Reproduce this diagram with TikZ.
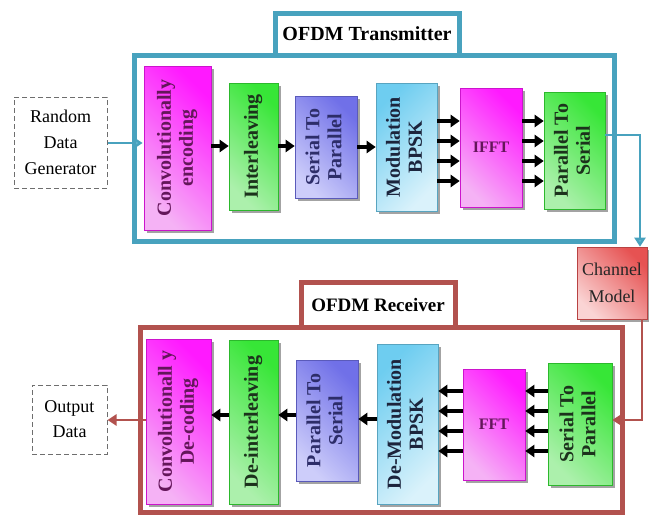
\documentclass[tikz,border=0pt]{standalone}
\usepackage{fontspec}
\usepackage{graphicx}
\setmainfont{Liberation Serif}
\usetikzlibrary{shadows,arrows.meta,calc}
\definecolor{tealc}{RGB}{72,162,190}
\definecolor{tealarr}{RGB}{96,180,206}
\definecolor{redc}{RGB}{178,82,78}
\definecolor{grayc}{RGB}{110,110,110}
\definecolor{magl}{RGB}{245,178,245}
\definecolor{magd}{RGB}{255,25,255}
\definecolor{magt}{RGB}{100,22,90}
\definecolor{grnl}{RGB}{172,240,172}
\definecolor{grnd}{RGB}{55,230,55}
\definecolor{grnt}{RGB}{28,50,28}
\definecolor{purl}{RGB}{205,205,250}
\definecolor{purd}{RGB}{112,112,232}
\definecolor{purt}{RGB}{45,45,105}
\definecolor{blul}{RGB}{218,242,251}
\definecolor{blud}{RGB}{110,205,240}
\definecolor{blut}{RGB}{28,36,60}
\definecolor{redl}{RGB}{250,212,212}
\definecolor{redd}{RGB}{230,82,82}
\newcommand\vtext[1]{\rotatebox{90}{\begin{tabular}{@{}c@{}}#1\end{tabular}}}
\begin{document}
\begin{tikzpicture}[x=1pt,y=-1pt,
  blk/.style={inner sep=0pt, line width=0.6pt,
    drop shadow={shadow xshift=3pt,shadow yshift=-3pt,fill=black!60,opacity=.6},
    font=\bfseries\fontsize{20}{22}\selectfont},
  magblk/.style={blk, draw=magd!80!black, top color=magd, bottom color=magl, shading angle=-45, text=magt},
  grnblk/.style={blk, draw=grnd!80!black, top color=grnd, bottom color=grnl, shading angle=-45, text=grnt},
  purblk/.style={blk, draw=purd!80!black, top color=purd, bottom color=purl, shading angle=-45, text=purt},
  blublk/.style={blk, draw=blud!80!black, top color=blud, bottom color=blul, shading angle=45, text=blut},
  redblk/.style={blk, draw=redd!80!black, top color=redd, bottom color=redl, shading angle=-45, text=black!85,
    font=\fontsize{18}{27}\selectfont, align=center},
  dashbox/.style={draw=grayc, line width=1pt, dash pattern=on 5pt off 3pt, fill=white, inner sep=0pt,
    align=center, text=black},
  txframe/.style={draw=tealc, line width=5pt, inner sep=0pt},
  rxframe/.style={draw=redc, line width=5pt, inner sep=0pt},
  barrow/.style={black, line width=3.4pt, -{Triangle[length=9pt,width=12pt]}},
  tarrow/.style={tealc, line width=2.6pt, -{Triangle[length=9pt,width=11pt,fill=tealarr]}},
  rarrow/.style={redc, line width=2.6pt, -{Triangle[length=9pt,width=11pt]}}
]
\useasboundingbox (0,0) rectangle (649,517);
\fill[white] (0,0) rectangle (649,517);

% ---------- Transmitter ----------
\node[txframe, minimum width=480pt, minimum height=186pt] (txbox) at (374,148) {};
\node[txframe, fill=white, minimum width=184pt, minimum height=42pt,
      font=\bfseries\fontsize{20}{22}\selectfont] (txtitle) at (367,34) {OFDM Transmitter};

\node[dashbox, minimum width=93pt, minimum height=91pt, font=\fontsize{18}{26}\selectfont] (rdg) at (60.5,142.5) {Random\\Data\\Generator};

\node[magblk, minimum width=67pt, minimum height=164pt] (conv) at (177.5,148) {\vtext{Convolutionally\\encoding}};
\node[grnblk, minimum width=49pt, minimum height=127pt] (inter) at (253.5,146.5) {\vtext{Interleaving}};
\node[purblk, minimum width=62pt, minimum height=102pt] (s2p) at (326,147) {\vtext{Serial To\\Parallel}};
\node[blublk, minimum width=61pt, minimum height=128pt] (mod) at (406.5,147) {\vtext{Modulation\\BPSK}};
\node[magblk, minimum width=62pt, minimum height=119pt, font=\bfseries\fontsize{16}{18}\selectfont] (ifft) at (491,147.5) {IFFT};
\node[grnblk, minimum width=61pt, minimum height=117pt] (p2s) at (574.5,150.5) {\vtext{Parallel To\\Serial}};

\node[redblk, minimum width=70pt, minimum height=72pt] (chan) at (612,283) {Channel\\Model};

\draw[tarrow] (rdg.east |- 0,143) -- ($(conv.west |- 0,143)+(-1,0)$);
\draw[barrow] (conv.east |- 0,146) -- (inter.west |- 0,146);
\draw[barrow] (inter.east |- 0,146) -- (s2p.west |- 0,146);
\draw[barrow] (s2p.east |- 0,147) -- (mod.west |- 0,147);
\foreach \yy in {121,141,161,181}{
  \draw[barrow] (mod.east |- 0,\yy) -- (ifft.west |- 0,\yy);
  \draw[barrow] (ifft.east |- 0,\yy) -- (p2s.west |- 0,\yy);
}
\coordinate (c1) at (640,135);
\draw[tarrow, line width=2.2pt] (p2s.east |- c1) -- (c1) -- (c1 |- chan.north);

% ---------- Receiver ----------
\node[rxframe, minimum width=482pt, minimum height=185pt] (rxbox) at (381,419.5) {};
\node[rxframe, fill=white, minimum width=154pt, minimum height=45pt,
      font=\bfseries\fontsize{19}{22}\selectfont] (rxtitle) at (378,304.5) {\raisebox{-3pt}{OFDM Receiver}};

\node[dashbox, minimum width=75pt, minimum height=69pt, font=\fontsize{18}{25}\selectfont] (out) at (69.5,419.5) {Output\\Data};

\node[magblk, minimum width=65pt, minimum height=165pt] (cdec) at (178.5,421.5) {\vtext{Convolutionall y\\De-coding}};
\node[grnblk, minimum width=49pt, minimum height=164pt] (dint) at (253.5,422) {\vtext{De-interleaving}};
\node[purblk, minimum width=62pt, minimum height=121pt] (rp2s) at (327,420.5) {\vtext{Parallel To\\Serial}};
\node[blublk, minimum width=61pt, minimum height=160pt] (dmod) at (407.5,424) {\vtext{De-Modulation\\BPSK}};
\node[magblk, minimum width=62pt, minimum height=111pt, font=\bfseries\fontsize{16}{18}\selectfont] (fft) at (494,424.5) {FFT};
\node[grnblk, minimum width=64pt, minimum height=122pt] (rs2p) at (580,424) {\vtext{Serial To\\Parallel}};

\coordinate (c2) at (642,420);
\draw[rarrow, line width=2.2pt] (chan.south -| c2) -- (c2) -- (rs2p.east |- c2);
\foreach \yy in {391,411,431,451}{
  \draw[barrow] (rs2p.west |- 0,\yy) -- (fft.east |- 0,\yy);
  \draw[barrow] (fft.west |- 0,\yy) -- (dmod.east |- 0,\yy);
}
\draw[barrow] (dmod.west |- 0,419) -- (rp2s.east |- 0,419);
\draw[barrow] (rp2s.west |- 0,415) -- (dint.east |- 0,415);
\draw[barrow] (dint.west |- 0,415) -- (cdec.east |- 0,415);
\draw[rarrow] (cdec.west |- 0,420) -- (out.east |- 0,420);
\end{tikzpicture}
\end{document}
